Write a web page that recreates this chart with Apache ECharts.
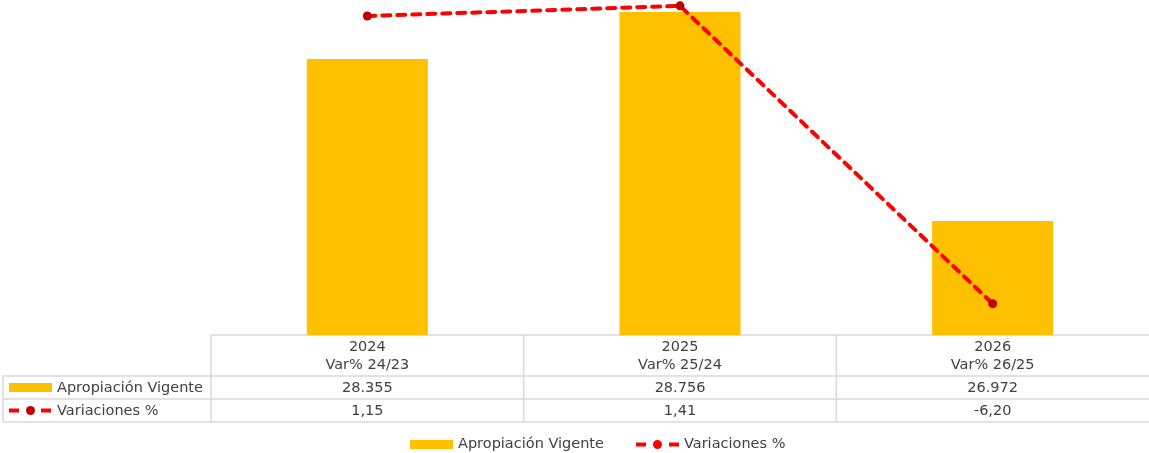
<!DOCTYPE html>
<html><head><meta charset="utf-8">
<script src="https://cdn.jsdelivr.net/npm/echarts@6/dist/echarts.min.js"></script>
<style>html,body{margin:0;padding:0;background:#fff}#c{width:1149px;height:453px}</style>
</head><body><div id="c"></div>
<script>
const years = ['2024', '2025', '2026'];
const varLabels = ['Var% 24/23', 'Var% 25/24', 'Var% 26/25'];
const seriesNames = ['Apropiación Vigente', 'Variaciones %'];
const apropiacion = [28355, 28756, 26972];
const variaciones = [1.15, 1.41, -6.20];

const FONT = 'DejaVu Sans';
const TXT = '#404040';
const GRIDC = '#d9d9d9';
const BAR = '#FFC000';
const LINE = '#FF0000';
const DOT = '#C00000';

function fmtThousands(v) { return String(v).replace(/\B(?=(\d{3})+(?!\d))/g, '.'); }
function fmtDec(v) { return v.toFixed(2).replace('.', ','); }

const lineIcon = 'path://M0,2.5h10v4h-10z M33,2.5h10v4h-10z M17,4.5a4.5,4.5 0 1,0 9,0a4.5,4.5 0 1,0 -9,0z';

const chart = echarts.init(document.getElementById('c'), null, {renderer: 'canvas'});
const GRID = {left: 211, right: 0, top: 0, bottom: 118};
chart.setOption({
  animation: false,
  backgroundColor: '#fff',
  grid: GRID,
  xAxis: {type: 'category', data: years, show: false, boundaryGap: true},
  yAxis: [
    {type: 'value', min: 26000, max: 28858, show: false},
    {type: 'value', min: -7, max: 1.56, show: false}
  ],
  legend: {
    left: 405, top: 432, itemWidth: 43, itemHeight: 9, itemGap: 32,
    textStyle: {fontFamily: FONT, fontSize: 14.5, color: TXT},
    data: [
      {name: seriesNames[0], icon: 'rect', itemStyle: {color: BAR}},
      {name: seriesNames[1], icon: lineIcon, itemStyle: {color: LINE}}
    ]
  },
  series: [
    {name: seriesNames[0], type: 'bar', data: apropiacion, barWidth: 121,
     itemStyle: {color: BAR}, yAxisIndex: 0},
    {name: seriesNames[1], type: 'line', data: variaciones, yAxisIndex: 1,
     symbol: 'circle', symbolSize: 9,
     lineStyle: {color: LINE, width: 4, type: [8, 7], cap: 'round'},
     itemStyle: {color: DOT}, z: 5}
  ]
});

// data table beneath the plot
const yTop = 335, yH = 376, yR1 = 399, yR2 = 422, xLeft = 3;
const plotRight = 1149;
const centers = years.map((y, i) => chart.convertToPixel({xAxisIndex: 0}, i));
const band = centers.length > 1 ? centers[1] - centers[0] : 312;
const bounds = [centers[0] - band / 2].concat(centers.map(c => c + band / 2));
const g = [];
function hline(x1, x2, y) { g.push({type: 'line', shape: {x1, y1: y, x2, y2: y}, style: {stroke: GRIDC, lineWidth: 1.5}, silent: true}); }
function vline(x, y1, y2) { g.push({type: 'line', shape: {x1: x, y1, x2: x, y2}, style: {stroke: GRIDC, lineWidth: 1.5}, silent: true}); }
hline(bounds[0], plotRight, yTop);
hline(xLeft, plotRight, yH);
hline(xLeft, plotRight, yR1);
hline(xLeft, plotRight, yR2);
vline(xLeft, yH, yR2);
bounds.slice(0, -1).forEach(b => vline(b, yTop, yR2));

const ts = {fontFamily: FONT, fontSize: 14.5, fill: TXT};
centers.forEach((c, i) => {
  g.push({type: 'text', x: c, y: (yTop + yH) / 2 + 1, style: Object.assign({}, ts, {text: years[i] + '\n' + varLabels[i], align: 'center', verticalAlign: 'middle', lineHeight: 18})});
  g.push({type: 'text', x: c, y: (yH + yR1) / 2 + 1, style: Object.assign({}, ts, {text: fmtThousands(apropiacion[i]), align: 'center', verticalAlign: 'middle'})});
  g.push({type: 'text', x: c, y: (yR1 + yR2) / 2 + 1, style: Object.assign({}, ts, {text: fmtDec(variaciones[i]), align: 'center', verticalAlign: 'middle'})});
});
// row headers
g.push({type: 'rect', shape: {x: 9, y: 383, width: 43, height: 9}, style: {fill: BAR}});
g.push({type: 'text', x: 57, y: (yH + yR1) / 2 + 1, style: Object.assign({}, ts, {text: seriesNames[0], align: 'left', verticalAlign: 'middle'})});
const ry = (yR1 + yR2) / 2;
g.push({type: 'rect', shape: {x: 9, y: ry - 2, width: 10, height: 4}, style: {fill: LINE}});
g.push({type: 'rect', shape: {x: 41, y: ry - 2, width: 10, height: 4}, style: {fill: LINE}});
g.push({type: 'circle', shape: {cx: 30.5, cy: ry, r: 4.5}, style: {fill: DOT}});
g.push({type: 'text', x: 57, y: ry + 1, style: Object.assign({}, ts, {text: seriesNames[1], align: 'left', verticalAlign: 'middle'})});

chart.setOption({graphic: g});
</script></body></html>
